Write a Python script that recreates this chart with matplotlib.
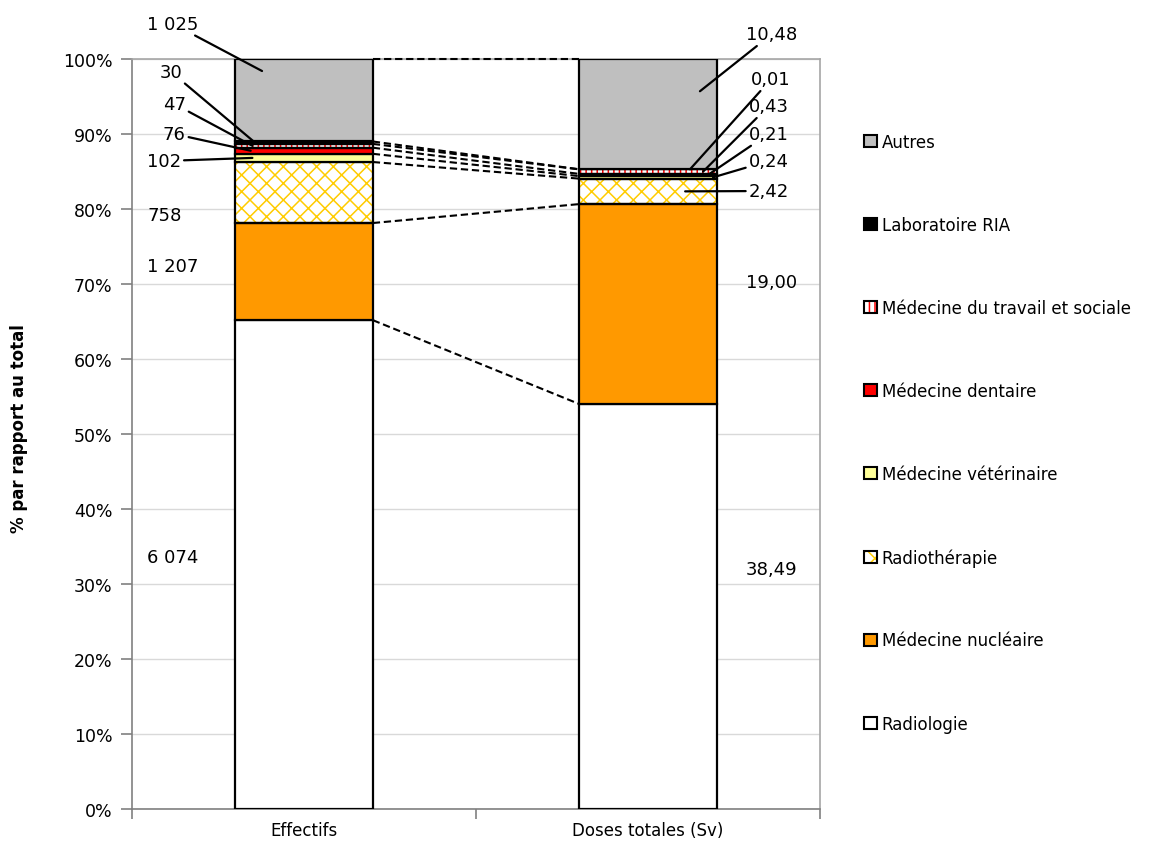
import matplotlib
matplotlib.use("Agg")
import matplotlib.pyplot as plt
from matplotlib.patches import Patch
from matplotlib.legend_handler import HandlerTuple
import numpy as np

plt.rcParams['font.family'] = ['DejaVu Sans']
plt.rcParams['hatch.linewidth'] = 1.1

# ---- data -------------------------------------------------------------
categories = ["Radiologie", "Médecine nucléaire", "Radiothérapie",
              "Médecine vétérinaire", "Médecine dentaire",
              "Médecine du travail et sociale", "Laboratoire RIA", "Autres"]
bar_names = ["Effectifs", "Doses totales (Sv)"]
effectifs = [6074, 1207, 758, 102, 76, 47, 30, 1025]
doses = [38.49, 19.00, 2.42, 0.24, 0.21, 0.43, 0.01, 10.48]

# ---- styles -----------------------------------------------------------
faces = ["white", "#FF9900", "white", "#FFFF99", "#FF0000", "white", "black", "#BFBFBF"]
hatches = [None, None, "xx", None, None, "|||", None, None]
hatch_colors = [None, None, "#FFCC00", None, None, "#FF0000", None, None]
EDGE_LW = 1.6
BAR_W = 0.4


def fmt_eff(v):
    return f"{v:,}".replace(",", " ")


def fmt_dose(v):
    return f"{v:.2f}".replace(".", ",")


# label placement: (text x, text y, tip x, tip y or None -> segment middle); tip x None -> no leader
eff_layout = [(-0.456, 33.6, None, None), (-0.456, 72.4, None, None),
              (-0.456, 79.2, None, None), (-0.456, 86.4, -0.15, None),
              (-0.41, 90.0, -0.155, None), (-0.41, 94.0, -0.15, None),
              (-0.42, 98.3, -0.142, None), (-0.456, 104.7, -0.122, 98.4)]
dose_layout = [(1.285, 32.0, None, None), (1.285, 70.3, None, None),
               (1.292, 82.4, 1.108, None), (1.292, 86.4, 1.189, None),
               (1.292, 90.0, 1.174, None), (1.292, 93.7, 1.16, None),
               (1.30, 97.3, 1.122, None), (1.285, 103.3, 1.151, 95.7)]

fig = plt.figure(figsize=(11.57, 8.45), dpi=100)
ax = fig.add_axes([132 / 1157, 1 - 810 / 845, (820 - 132) / 1157, 750 / 845])

xpos = np.arange(len(bar_names))
stacks = []
for j, vals in enumerate([effectifs, doses]):
    vals = np.asarray(vals, dtype=float)
    pct = vals / vals.sum() * 100
    bottoms = np.concatenate([[0], np.cumsum(pct)[:-1]])
    stacks.append((pct, bottoms))
    for i in range(len(categories)):
        if hatches[i]:
            ax.bar(xpos[j], pct[i], BAR_W, bottom=bottoms[i], color="white",
                   edgecolor=hatch_colors[i], hatch=hatches[i], linewidth=0, zorder=2)
            ax.bar(xpos[j], pct[i], BAR_W, bottom=bottoms[i], fill=False,
                   edgecolor="black", linewidth=EDGE_LW, zorder=3)
        else:
            ax.bar(xpos[j], pct[i], BAR_W, bottom=bottoms[i], color=faces[i],
                   edgecolor="black", linewidth=EDGE_LW, zorder=3)

# dashed connectors between the tops of matching segments
(pe, be), (pd, bd) = stacks
tops_e = be + pe
tops_d = bd + pd
for k in range(len(categories)):
    ax.plot([xpos[0] + BAR_W / 2, xpos[1] - BAR_W / 2], [tops_e[k], tops_d[k]],
            color="black", lw=1.5, dashes=(3.5, 1.8), zorder=4, clip_on=False)

# value labels
for j, (vals, layout, fmt) in enumerate([(effectifs, eff_layout, fmt_eff),
                                         (doses, dose_layout, fmt_dose)]):
    pct, bottoms = stacks[j]
    for i, v in enumerate(vals):
        tx, ty, px, py = layout[i]
        if px is None:
            ax.text(tx, ty, fmt(v), ha="left", va="center", fontsize=13, zorder=5,
                    clip_on=False)
        else:
            if py is None:
                py = bottoms[i] + pct[i] / 2
            ax.annotate(fmt(v), xy=(px, py), xytext=(tx, ty), ha="left", va="center",
                        fontsize=13, annotation_clip=False, zorder=5,
                        arrowprops=dict(arrowstyle="-", color="black", lw=1.6,
                                        shrinkA=0, shrinkB=0))

# axes styling
ax.set_xlim(-0.5, 1.5)
ax.set_ylim(0, 100)
ax.set_yticks(np.arange(0, 101, 10))
ax.set_yticklabels([f"{t}%" for t in range(0, 101, 10)], fontsize=12.5)
ax.set_xticks(xpos)
ax.set_xticklabels(bar_names, fontsize=12)
ax.set_xticks([-0.5, 0.5, 1.5], minor=True)
ax.tick_params(axis="x", which="major", length=0, pad=9)
ax.tick_params(axis="x", which="minor", length=7, color="#808080", width=1.2)
ax.tick_params(axis="y", direction="out", length=8, color="#808080", width=1.2, pad=6)
ax.yaxis.grid(True, color="#D9D9D9", lw=1.0, zorder=0)
ax.set_axisbelow(True)
for s in ["left", "bottom"]:
    ax.spines[s].set_color("#808080")
    ax.spines[s].set_linewidth(1.2)
for s in ["top", "right"]:
    ax.spines[s].set_color("#A6A6A6")
    ax.spines[s].set_linewidth(1.2)

fig.text(0.016, 0.493, "% par rapport au total", rotation=90, ha="center",
         va="center", fontsize=12, fontweight="bold")

# legend, top entry = top of the stack
handles = []
for i in range(len(categories)):
    if hatches[i]:
        h = (Patch(facecolor="white", edgecolor=hatch_colors[i], hatch=hatches[i], lw=0),
             Patch(fill=False, edgecolor="black", lw=1.5))
    else:
        h = Patch(facecolor=faces[i], edgecolor="black", lw=1.5)
    handles.append(h)
fig.legend(handles[::-1], categories[::-1], loc="upper left",
           bbox_to_anchor=(864 / 1157, 1 - 134 / 845), frameon=False, fontsize=12,
           handlelength=0.75, handleheight=0.75, handletextpad=0.3, labelspacing=3.9,
           borderpad=0, borderaxespad=0,
           handler_map={tuple: HandlerTuple(ndivide=1)})

fig.savefig("out.png", dpi=100)
